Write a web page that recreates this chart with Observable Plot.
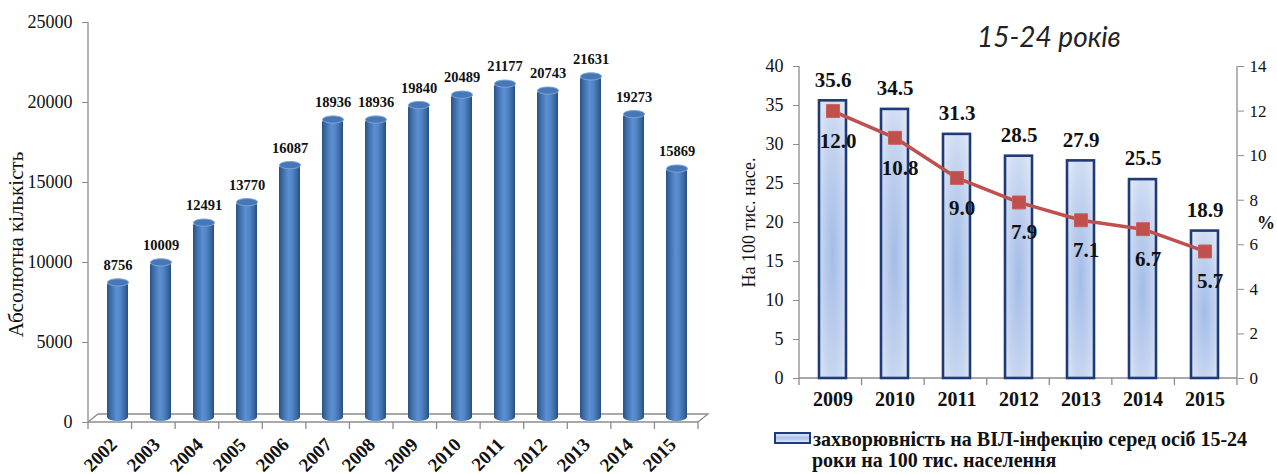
<!DOCTYPE html>
<html>
<head>
<meta charset="utf-8">
<script src="https://cdn.jsdelivr.net/npm/d3@7"></script>
<script src="https://cdn.jsdelivr.net/npm/@observablehq/plot@0.6"></script>
<style>
  html, body { margin: 0; padding: 0; background: #fff; }
  body { width: 1277px; height: 474px; overflow: hidden; position: relative; font-family: "Liberation Serif", serif; }
  #left { position: absolute; left: 0; top: 0; }
  #right { position: absolute; left: 730px; top: 0; width: 547px; height: 474px; }
  #rightPlot { position: absolute; left: 0; top: 50px; }
  #title { position: absolute; left: 247px; top: 22px; font-family: Lato, "Open Sans", sans-serif; font-style: italic; font-size: 28px; line-height: 28px; color: #222; white-space: nowrap; }
  #pct { position: absolute; left: 527px; top: 213px; font-size: 18px; line-height: 20px; font-weight: bold; color: #111; }
  #legend { position: absolute; left: 44px; top: 429px; font-weight: bold; font-size: 20px; line-height: 21px; color: #111; white-space: nowrap; }
  #legend .sw { display: inline-block; width: 33px; height: 8px; border: 2px solid #1f3a78; background: linear-gradient(to bottom, #dfe7f6, #a9c0e8 50%, #dfe7f6); vertical-align: 2px; margin-right: 2px; }
  #legend .l2 { padding-left: 38px; }
  svg g[aria-label="y-axis tick"] path, svg g[aria-label="x-axis tick"] path { stroke: #8c8c8c; }
  svg g[aria-label="x-axis tick label"] { font-weight: bold; }
</style>
</head>
<body>
<div id="left"></div>
<div id="right">
  <div id="title">15-24 років</div>
  <div id="rightPlot"></div>
  <div id="pct">%</div>
  <div id="legend"><span class="sw"></span>захворювність на ВІЛ-інфекцію серед осіб 15-24<br><span class="l2">роки на 100 тис. населення</span></div>
</div>
<script>
// ---------- data: left chart ----------
const years1 = ["2002","2003","2004","2005","2006","2007","2008","2009","2010","2011","2012","2013","2014","2015"];
const counts = [8756, 10009, 12491, 13770, 16087, 18936, 18936, 19840, 20489, 21177, 20743, 21631, 19273, 15869];
const yTicks1 = [0, 5000, 10000, 15000, 20000, 25000];
const yLabel1 = "Абсолютна кількість";

// ---------- data: right chart ----------
const years2 = ["2009","2010","2011","2012","2013","2014","2015"];
const rates = [35.6, 34.5, 31.3, 28.5, 27.9, 25.5, 18.9];
const pcts = [12.0, 10.8, 9.0, 7.9, 7.1, 6.7, 5.7];
const yTicks2 = [0, 5, 10, 15, 20, 25, 30, 35, 40];
const pctTicks = [0, 2, 4, 6, 8, 10, 12, 14];
const yLabel2 = "На 100 тис. насе.";

const data1 = years1.map((year, i) => ({year, value: counts[i]}));
const data2 = years2.map((year, i) => ({year, rate: rates[i], pct: pcts[i]}));
const k = 40 / 14; // secondary (%) axis mapped onto primary axis

// ellipse symbol for cylinder caps
const capSymbol = {
  draw(ctx) {
    const rx = 10.5, ry = 3.6, c = 0.5523;
    ctx.moveTo(rx, 0);
    ctx.bezierCurveTo(rx, ry * c, rx * c, ry, 0, ry);
    ctx.bezierCurveTo(-rx * c, ry, -rx, ry * c, -rx, 0);
    ctx.bezierCurveTo(-rx, -ry * c, -rx * c, -ry, 0, -ry);
    ctx.bezierCurveTo(rx * c, -ry, rx, -ry * c, rx, 0);
    ctx.closePath();
  }
};

const serif = "Liberation Serif, Times New Roman, serif";

// ---------- left chart ----------
const left = Plot.plot({
  width: 730, height: 474,
  marginLeft: 88, marginRight: 32, marginTop: 22, marginBottom: 52,
  style: {fontFamily: serif, fontSize: "18px", color: "#111", background: "transparent"},
  x: {domain: years1, paddingInner: 0.52, paddingOuter: 0.26},
  y: {domain: [0, 25000]},
  marks: [
    Plot.axisY(yTicks1, {tickSize: 6, tickPadding: 10, fontSize: 18, tickFormat: d => String(d),
      label: yLabel1, labelAnchor: "center", labelOffset: 80, labelArrow: "none"}),
    Plot.axisX({tickSize: 0, tickPadding: 19, tickRotate: -45, fontSize: 19, fontWeight: "bold", label: null, dx: 0}),
    Plot.barY(data1, {x: "year", y: "value", fill: "url(#cyl)", rx: 10.5, ry: 4, dx: 4, dy: -1}),
    Plot.dot(data1, {x: "year", y: "value", symbol: capSymbol, r: 5, fill: "#4677b6", stroke: "#7ea4d8", strokeWidth: 1, dx: 4}),
    Plot.text(data1, {x: "year", y: "value", text: d => String(d.value), dy: -17, dx: 4, fontWeight: "bold", fontSize: 14.5, fill: "#111"})
  ]
});
document.getElementById("left").appendChild(left);
d3.select(left).selectAll('g[aria-label="y-axis label"] text').attr("font-size", 21).attr("dx", -22);

// ---------- right chart ----------
const right = Plot.plot({
  width: 547, height: 375,
  marginLeft: 69, marginRight: 40, marginTop: 16, marginBottom: 47,
  style: {fontFamily: serif, fontSize: "17px", color: "#111", background: "transparent"},
  x: {domain: years2, paddingInner: 0.57, paddingOuter: 0.285},
  y: {domain: [0, 40]},
  marks: [
    Plot.axisY(yTicks2, {anchor: "left", tickSize: 6, tickPadding: 10, fontSize: 18,
      label: yLabel2, labelAnchor: "center", labelOffset: 57, labelArrow: "none"}),
    Plot.axisY(pctTicks.map(v => v * k), {anchor: "right", tickSize: 6, tickPadding: 6, fontSize: 17,
      tickFormat: v => String(Math.round(v / k)), label: null}),
    Plot.axisX({tickSize: 0, tickPadding: 13, fontSize: 20, fontWeight: "bold", label: null}),
    Plot.barY(data2, {x: "year", y: "rate", fill: "url(#pale)", stroke: "#1f3a78", strokeWidth: 2.6}),
    Plot.line(data2, {x: "year", y: d => d.pct * k, stroke: "#c0504d", strokeWidth: 3.5}),
    Plot.dot(data2, {x: "year", y: d => d.pct * k, symbol: "square", r: 7.3, fill: "#c0504d", stroke: "#c8605c", strokeWidth: 1}),
    Plot.text(data2, {x: "year", y: "rate", text: d => d.rate.toFixed(1), dy: -21, fontWeight: "bold", fontSize: 21, fill: "#111"}),
    Plot.text(data2, {x: "year", y: d => d.pct * k, text: d => d.pct.toFixed(1), dy: 30, dx: 5, fontWeight: "bold", fontSize: 21, fill: "#111"})
  ]
});
document.getElementById("rightPlot").appendChild(right);
d3.select(right).selectAll('g[aria-label="y-axis label"] text').attr("font-size", 18);

// ---------- gradients & axis decorations (positions from Plot scales) ----------
function addDefs(svg) {
  const defs = d3.select(svg).insert("defs", ":first-child");
  const cyl = defs.append("linearGradient").attr("id", "cyl").attr("x1", 0).attr("x2", 1).attr("y1", 0).attr("y2", 0);
  [[0, "#2a5283"], [0.18, "#3f6ea9"], [0.45, "#5a8fd1"], [0.62, "#5387c9"], [0.85, "#3b69a3"], [1, "#284d7c"]]
    .forEach(([o, c]) => cyl.append("stop").attr("offset", o).attr("stop-color", c));
  const pale = defs.append("radialGradient").attr("id", "pale").attr("cx", 0.5).attr("cy", 0.55).attr("r", 0.75);
  [[0, "#a3bce8"], [0.6, "#c7d6f0"], [1, "#e6ecf8"]]
    .forEach(([o, c]) => pale.append("stop").attr("offset", o).attr("stop-color", c));
}
addDefs(left);
addDefs(right);

function decorate(plot, opts) {
  const x = plot.scale("x"), y = plot.scale("y");
  const [r0, r1] = x.range;
  const step = (r1 - r0) / x.domain.length;
  const y0 = y.apply(0), yTop = y.apply(y.domain[1]);
  const g = d3.select(plot).insert("g", "g").attr("fill", "none").attr("stroke", "#8c8c8c").attr("stroke-width", 1.3);
  g.append("line").attr("x1", r0).attr("x2", r0).attr("y1", yTop).attr("y2", y0);
  if (opts.rightAxis) g.append("line").attr("x1", r1).attr("x2", r1).attr("y1", yTop).attr("y2", y0);
  g.append("line").attr("x1", r0).attr("x2", r1).attr("y1", y0).attr("y2", y0);
  if (opts.depth) {
    const [dx, dy] = opts.depth;
    g.append("polyline").attr("points", `${r0},${y0} ${r0 + dx},${y0 + dy} ${r1 + dx},${y0 + dy} ${r1},${y0}`);
  }
  for (let i = 0; i <= x.domain.length; i++) {
    const xi = r0 + i * step;
    g.append("line").attr("x1", xi).attr("x2", xi).attr("y1", y0).attr("y2", y0 + 7);
  }
}
decorate(left, {depth: [10, -8]});
decorate(right, {rightAxis: true});
</script>
</body>
</html>
